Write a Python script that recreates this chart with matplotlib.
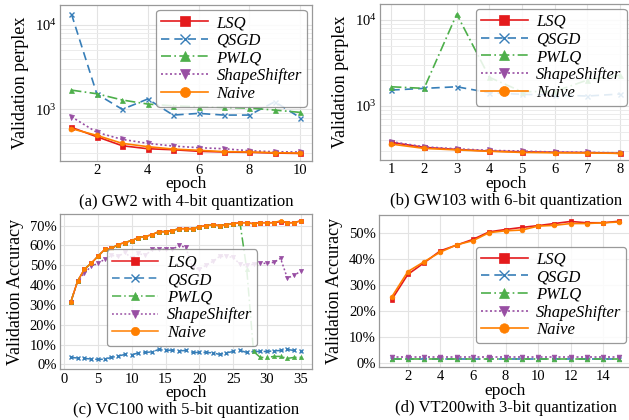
import matplotlib
matplotlib.use("Agg")
import matplotlib.pyplot as plt
from matplotlib.ticker import FuncFormatter, MultipleLocator, NullFormatter

plt.rcParams["font.family"] = "serif"
plt.rcParams["font.serif"] = ["Liberation Serif", "DejaVu Serif"]
plt.rcParams["mathtext.fontset"] = "custom"
plt.rcParams["mathtext.rm"] = "Liberation Serif"
plt.rcParams["mathtext.it"] = "Liberation Serif:italic"

methods = ["LSQ", "QSGD", "PWLQ", "ShapeShifter", "Naive"]

# (a) GW2, 4-bit: validation perplexity per epoch
epochs_a = list(range(1, 11))
gw2_lsq = [611, 473, 370, 341, 332, 318, 312, 309, 303, 300]
gw2_qsgd = [13500, 1520, 1000, 1325, 855, 895, 855, 855, 1230, 795]
gw2_pwlq = [1690, 1530, 1290, 1155, 1100, 1075, 1055, 1035, 980, 920]
gw2_shape = [817, 533, 440, 395, 367, 351, 341, 323, 314, 312]
gw2_naive = [590, 491, 395, 361, 338, 327, 315, 312, 306, 303]

# (b) GW103, 6-bit: validation perplexity per epoch
epochs_b = list(range(1, 9))
gw103_lsq = [378, 331, 313, 300, 294, 290, 288, 282]
gw103_qsgd = [1535, 1605, 1675, 1428, 1368, 1342, 1307, 1380]
gw103_pwlq = [1675, 1605, 11700, 2155, 1467, 1480, 2005, 2290]
gw103_shape = [385, 336, 318, 305, 300, 292, 290, 285]
gw103_naive = [361, 322, 309, 298, 289, 286, 285, 282]

# (c) VC100, 5-bit: validation accuracy (%) per epoch
epochs_c = list(range(1, 36))
vc100_lsq = [31.5, 42, 48, 51, 54.5, 58, 58.5, 60.5, 61.5, 62.5,
             64, 64.5, 65.5, 67, 67, 67.5, 68.5, 68.5, 68.5, 69.5,
             70, 70.5, 70, 70.5, 71, 71.5, 71.5, 71, 71.5, 71.5,
             71.5, 72, 71.5, 71.5, 72.5]
vc100_naive = [31.5, 42, 48, 51, 54.5, 58, 58.5, 60.5, 61.5, 62.5,
               64, 64.5, 65.5, 67, 67, 67.5, 68.5, 68.5, 68.5, 69.5,
               70, 70.5, 70, 70.5, 71, 71.5, 71.5, 71, 71.5, 71.5,
               71.5, 72.5, 71.5, 71.5, 72.5]
vc100_pwlq = [31.5, 42, 48, 51, 54.5, 58, 58.5, 60.5, 61.5, 62.5,
              64, 64.5, 65.5, 67, 67, 67.5, 68.5, 68.5, 68.5, 69.5,
              70, 70.5, 70, 70.5, 71, 71.5, 48, 6.5, 3.5, 3.5,
              4, 4, 3, 3.5, 3.5]
vc100_qsgd = [3.5, 3.2, 3, 2.7, 2.5, 2.6, 3.5, 4.2, 5, 4.8,
              5.8, 6, 6.3, 7.5, 7, 7.2, 6.8, 7, 6, 6,
              6, 5.8, 5, 5.8, 6.5, 7, 6, 6.5, 6.5, 6.5,
              6.8, 7, 7.5, 7, 6.5]
vc100_shape = [31.5, 42, 46, 49.5, 51, 53, 55, 54.5, 56.5, 53.5,
               56, 55, 58, 58, 58, 58, 60, 59, 49, 48,
               50, 52, 54.5, 54.5, 54, 50.5, 50, 50.5, 51, 51,
               51.5, 53.5, 43.5, 45, 47]

# (d) VT200, 3-bit: validation accuracy (%) per epoch
epochs_d = list(range(1, 16))
vt200_lsq = [24.4, 34.2, 38.7, 43.3, 45.5, 47.7, 50.6, 51.5, 52.3, 53,
             53.8, 54.6, 54.1, 54.1, 54.7]
vt200_qsgd = [1.5] * 15
vt200_pwlq = [1.5] * 15
vt200_shape = [2.4] * 15
vt200_naive = [25.4, 35.3, 39.1, 42.8, 45.6, 47.2, 50.3, 51, 51.3, 52.8,
               53.1, 53.8, 53.8, 54.1, 54.4]

colors = ["#e41a1c", "#377eb8", "#4daf4a", "#984ea3", "#ff7f00"]
markers = ["s", "x", "^", "v", "o"]
styles = ["-", (0, (5, 3)), (0, (6, 2, 1, 2)), (0, (1.2, 1.5)), "-"]

W, H = 629, 420
fig = plt.figure(figsize=(W / 100, H / 100), dpi=100)


def add_ax(left, top, right, bottom):
    return fig.add_axes([left / W, 1 - bottom / H, (right - left) / W, (bottom - top) / H])


def style_ax(ax, log=False):
    for s in ax.spines.values():
        s.set_color("#999999")
        s.set_linewidth(0.9)
    ax.tick_params(axis="both", which="both", labelsize=10.5, length=0, pad=2.5,
                   labelcolor="black")
    ax.grid(True, which="major", color="#e3e3e3", lw=0.8)
    if log:
        ax.grid(True, which="minor", axis="y", color="#ececec", lw=0.7)
    ax.set_axisbelow(True)


def draw(ax, x, series, ms, lw=1.2):
    for i, (name, y) in enumerate(zip(methods, series)):
        ax.plot(x, y, color=colors[i], marker=markers[i], linestyle=styles[i],
                markersize=ms, lw=lw, label=name,
                markeredgewidth=1.0 if markers[i] == "x" else 0.5)


def legend(ax, **kw):
    leg = ax.legend(prop={"style": "italic", "size": 12}, markerscale=2.0,
                    handlelength=2.8, labelspacing=0.1, handletextpad=0.5,
                    borderpad=0.3, fancybox=True, framealpha=0.85,
                    edgecolor="#888888", **kw)
    leg.get_frame().set_linewidth(0.9)
    return leg


def labels(ax, left, right, y_epoch, y_cap, cap, ylabel):
    ax.set_ylabel(ylabel, fontsize=13, labelpad=4)
    cx = (left + right) / 2 / W
    fig.text(cx, 1 - y_epoch / H, "epoch", ha="center", va="baseline", fontsize=12.5)
    fig.text(cx, 1 - y_cap / H, cap, ha="center", va="center", fontsize=12)


# (a)
ax = add_ax(60, 5, 311.7, 161)
draw(ax, epochs_a, [gw2_lsq, gw2_qsgd, gw2_pwlq, gw2_shape, gw2_naive], ms=3.6)
ax.set_yscale("log")
ax.set_xlim(0.55, 10.45)
ax.set_ylim(244, 17270)
ax.set_xticks([2, 4, 6, 8, 10])
ax.yaxis.set_minor_formatter(NullFormatter())
style_ax(ax, log=True)
legend(ax, loc="upper right", borderaxespad=0.3)
labels(ax, 60, 311.7, 188.5, 201.5, "(a) GW2 with 4-bit quantization", "Validation perplex")

# (b)
ax = add_ax(380, 4, 631.5, 160)
draw(ax, epochs_b, [gw103_lsq, gw103_qsgd, gw103_pwlq, gw103_shape, gw103_naive], ms=3.6)
ax.set_yscale("log")
ax.set_xlim(0.65, 8.35)
ax.set_ylim(236, 15350)
ax.set_xticks(epochs_b)
ax.yaxis.set_minor_formatter(NullFormatter())
style_ax(ax, log=True)
legend(ax, loc="upper right", borderaxespad=0.3)
labels(ax, 380, 631.5, 187.5, 200.5, "(b) GW103 with 6-bit quantization", "Validation perplex")

pct = FuncFormatter(lambda v, p: f"{v:.0f}%")

# (c)
ax = add_ax(60, 214, 311.7, 369.3)
draw(ax, epochs_c, [vc100_lsq, vc100_qsgd, vc100_pwlq, vc100_shape, vc100_naive], ms=3.0, lw=1.1)
ax.set_xlim(-0.6, 36.6)
ax.set_ylim(-2.5, 75.9)
ax.xaxis.set_major_locator(MultipleLocator(5))
ax.yaxis.set_major_locator(MultipleLocator(10))
ax.yaxis.set_major_formatter(pct)
style_ax(ax)
legend(ax, loc="lower left", bbox_to_anchor=(0.186, 0.15), borderaxespad=0)
labels(ax, 60, 311.7, 397, 409.5, "(c) VC100 with 5-bit quantization", "Validation Accuracy")

# (d)
ax = add_ax(379.3, 214.7, 631.7, 366.7)
draw(ax, epochs_d, [vt200_lsq, vt200_qsgd, vt200_pwlq, vt200_shape, vt200_naive], ms=3.4, lw=1.2)
ax.set_xlim(0.25, 15.75)
ax.set_ylim(-1.3, 57.2)
ax.set_xticks([2, 4, 6, 8, 10, 12, 14])
ax.yaxis.set_major_locator(MultipleLocator(10))
ax.yaxis.set_major_formatter(pct)
style_ax(ax)
legend(ax, loc="lower left", bbox_to_anchor=(0.383, 0.154), borderaxespad=0)
labels(ax, 379.3, 631.7, 395, 408, "(d) VT200with 3-bit quantization", "Validation Accuracy")

fig.savefig("out.png", dpi=100)
